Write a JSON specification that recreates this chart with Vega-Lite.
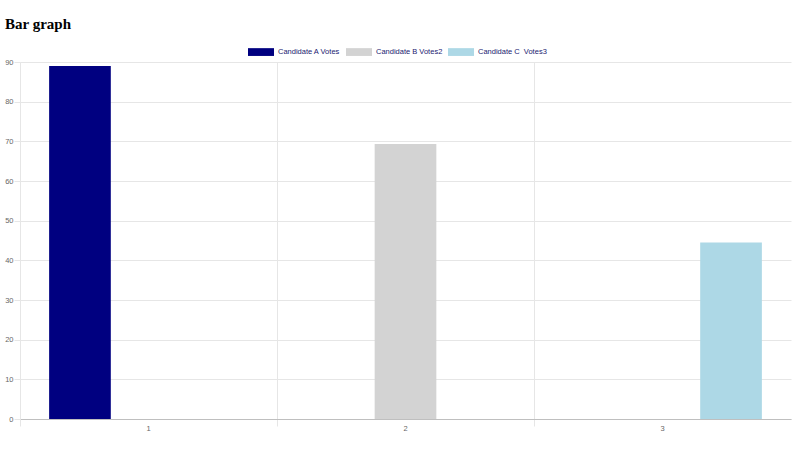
{
  "$schema": "https://vega.github.io/schema/vega-lite/v6.json",
  "title": {
    "text": "Bar graph",
    "anchor": "start",
    "frame": "group",
    "font": "Liberation Serif",
    "fontSize": 15,
    "fontWeight": "bold",
    "color": "#000000",
    "dx": -15,
    "baseline": "alphabetic",
    "offset": -5
  },
  "autosize": {"type": "none"},
  "padding": {"left": 20, "top": 62, "right": 9, "bottom": 31},
  "width": 771,
  "height": 357,
  "background": "#ffffff",
  "data": {
    "values": [
      {"label": "1", "series": "Candidate A Votes", "votes": 89},
      {"label": "1", "series": "Candidate B Votes2", "votes": 0},
      {"label": "1", "series": "Candidate C\u00a0 Votes3", "votes": 0},
      {"label": "2", "series": "Candidate A Votes", "votes": 0},
      {"label": "2", "series": "Candidate B Votes2", "votes": 69.3},
      {"label": "2", "series": "Candidate C\u00a0 Votes3", "votes": 0},
      {"label": "3", "series": "Candidate A Votes", "votes": 0},
      {"label": "3", "series": "Candidate B Votes2", "votes": 0},
      {"label": "3", "series": "Candidate C\u00a0 Votes3", "votes": 44.5}
    ]
  },
  "mark": "bar",
  "encoding": {
    "x": {
      "field": "label",
      "type": "nominal",
      "title": null,
      "scale": {"paddingInner": 0, "paddingOuter": 0},
      "axis": {
        "labelAngle": 0,
        "bandPosition": 0,
        "grid": true,
        "gridColor": "#e6e6e6",
        "tickColor": "#e6e6e6",
        "tickSize": 7,
        "domainColor": "#bfbfbf",
        "labelColor": "#666666",
        "labelFont": "Liberation Sans",
        "labelFontSize": 7.5,
        "labelPadding": -2
      }
    },
    "xOffset": {
      "field": "series",
      "type": "nominal",
      "scale": {"paddingInner": 0.1, "paddingOuter": 0.425}
    },
    "y": {
      "field": "votes",
      "type": "quantitative",
      "title": null,
      "scale": {"domain": [0, 90], "nice": false},
      "axis": {
        "values": [0, 10, 20, 30, 40, 50, 60, 70, 80, 90],
        "gridColor": "#e6e6e6",
        "tickColor": "#e6e6e6",
        "tickSize": 6,
        "domainColor": "#e6e6e6",
        "labelColor": "#666666",
        "labelFont": "Liberation Sans",
        "labelFontSize": 7.5,
        "labelPadding": 1
      }
    },
    "color": {
      "field": "series",
      "type": "nominal",
      "title": null,
      "scale": {
        "domain": ["Candidate A Votes", "Candidate B Votes2", "Candidate C\u00a0 Votes3"],
        "range": ["#000080", "#d3d3d3", "#add8e6"]
      },
      "legend": {
        "orient": "none",
        "direction": "horizontal",
        "legendX": 228,
        "legendY": -23,
        "symbolType": "M-1,-0.3H1V0.3H-1Z",
        "symbolSize": 676,
        "symbolOpacity": 1,
        "symbolStrokeWidth": 0,
        "labelColor": "#1a1a70",
        "labelFont": "Liberation Sans",
        "labelFontSize": 7.5,
        "labelOffset": 4,
        "columnPadding": 5
      }
    }
  },
  "config": {
    "view": {"stroke": null},
    "axis": {"domainWidth": 1, "gridWidth": 1}
  }
}
